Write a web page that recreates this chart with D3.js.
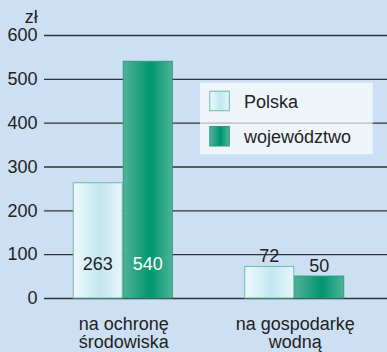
<!DOCTYPE html>
<html>
<head>
<meta charset="utf-8">
<script src="https://cdn.jsdelivr.net/npm/d3@7"></script>
<style>
  html, body { margin: 0; padding: 0; background: #cde0f3; }
  svg { display: block; font-family: "Liberation Sans", Arial, sans-serif; }
</style>
</head>
<body>
<script>
// Wydatki (zł) – kategorie, serie i wartości
const categories = ["na ochronę środowiska", "na gospodarkę wodną"];
const categoryLines = [["na ochronę", "środowiska"], ["na gospodarkę", "wodną"]];
const seriesNames = ["Polska", "województwo"];
const polskaValues = [263, 72];
const wojewodztwoValues = [540, 50];
const yTicks = [0, 100, 200, 300, 400, 500, 600];
const unitLabel = "zł";

const W = 387, H = 352;
const svg = d3.select("body").append("svg").attr("width", W).attr("height", H);

svg.append("rect").attr("width", W).attr("height", H).attr("fill", "#cde0f3");

// gradients for the bars
const defs = svg.append("defs");
function hGrad(id, edge, mid, edge2) {
  const g = defs.append("linearGradient").attr("id", id)
    .attr("x1", "0%").attr("x2", "100%").attr("y1", "0%").attr("y2", "0%");
  g.append("stop").attr("offset", "0%").attr("stop-color", edge);
  g.append("stop").attr("offset", "55%").attr("stop-color", mid);
  g.append("stop").attr("offset", "100%").attr("stop-color", edge2);
}
hGrad("gPolska", "#f0f9fd", "#c3e6f0", "#e8f6fb");
hGrad("gWoj", "#52b297", "#00956f", "#4fb398");

const seriesStyle = {
  "Polska": { fill: "url(#gPolska)", stroke: "#62c1a6", text: "#222" },
  "województwo": { fill: "url(#gWoj)", stroke: "#2a9c7d", text: "#ffffff" }
};

const y = d3.scaleLinear().domain([0, 600]).range([298, 35]);
const x = d3.scaleBand().domain(categories).range([37, 380]);
const x1 = d3.scaleBand().domain(seriesNames).range([-50, 50]);

// grid / y axis
const axisX = 44;
const yAxis = d3.axisLeft(y).tickValues(yTicks).tickSize(-(W - axisX)).tickPadding(6.5)
  .tickFormat(d3.format("d"));
const gAxis = svg.append("g").attr("transform", `translate(${axisX},0)`).call(yAxis);
gAxis.select(".domain").remove();
gAxis.selectAll(".tick line").attr("stroke", "#333").attr("stroke-width", 1.3);
gAxis.selectAll(".tick text").attr("fill", "#222").attr("font-size", 18)
  .attr("font-family", "Liberation Sans, Arial, sans-serif");

svg.append("text").attr("x", 37.7).attr("y", 23).attr("text-anchor", "end")
  .attr("font-size", 18).attr("fill", "#222").text(unitLabel);

// legend
const legend = svg.append("g");
legend.append("rect").attr("x", 200).attr("y", 82.7).attr("width", 172.7).attr("height", 71.6)
  .attr("fill", "#ffffff").attr("fill-opacity", 0.66);
seriesNames.forEach((s, i) => {
  const yy = 90.7 + i * 35.3;
  legend.append("rect").attr("x", 209.8).attr("y", yy + 0.5).attr("width", 19.5).attr("height", 19.5)
    .attr("fill", seriesStyle[s].fill).attr("stroke", seriesStyle[s].stroke).attr("stroke-width", 1);
  legend.append("text").attr("x", 244).attr("y", yy + 17.3).attr("font-size", 18)
    .attr("fill", "#222").text(s);
});

// bars
const data = [];
categories.forEach((c, ci) => {
  data.push({ cat: c, series: "Polska", value: polskaValues[ci] });
  data.push({ cat: c, series: "województwo", value: wojewodztwoValues[ci] });
});
const cx = c => x(c) + x.bandwidth() / 2;

svg.append("g").selectAll("rect").data(data).join("rect")
  .attr("x", d => cx(d.cat) + x1(d.series) + 0.5)
  .attr("y", d => y(d.value))
  .attr("width", x1.bandwidth() - 1)
  .attr("height", d => y(0) - y(d.value))
  .attr("fill", d => seriesStyle[d.series].fill)
  .attr("stroke", d => seriesStyle[d.series].stroke)
  .attr("stroke-width", 1);

// value labels: inside at the bottom for tall bars, above for short ones
svg.append("g").selectAll("text").data(data).join("text")
  .attr("x", d => cx(d.cat) + x1(d.series) + x1.bandwidth() / 2)
  .attr("y", d => d.value > 150 ? y(0) - 28 : y(d.value) - 4)
  .attr("text-anchor", "middle").attr("font-size", 18)
  .attr("fill", d => d.value > 150 ? seriesStyle[d.series].text : "#222")
  .text(d => d.value);

// category labels, two centred lines under each group
categories.forEach((c, ci) => {
  const t = svg.append("text").attr("text-anchor", "middle").attr("font-size", 18).attr("fill", "#222");
  categoryLines[ci].forEach((line, li) => {
    t.append("tspan").attr("x", cx(c) + 1).attr("y", 329.5 + li * 18.5).text(line);
  });
});
</script>
</body>
</html>
